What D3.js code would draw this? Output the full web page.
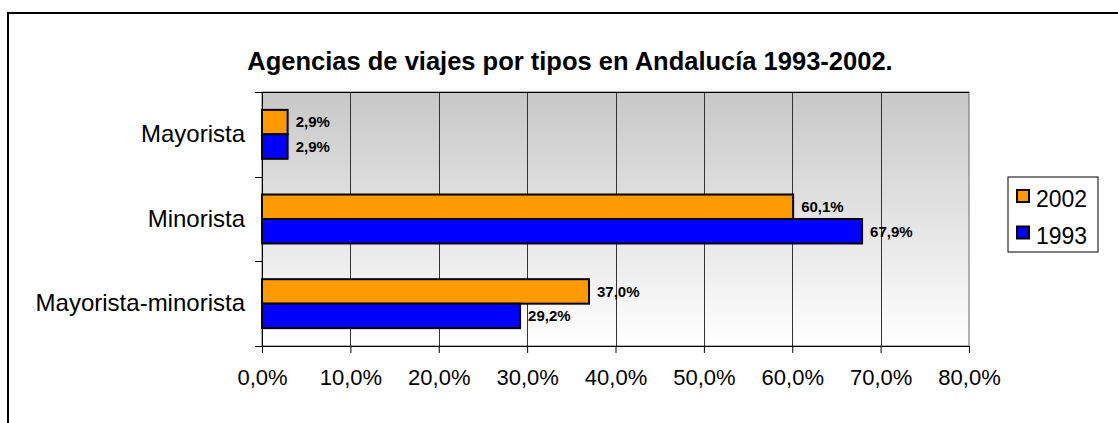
<!DOCTYPE html>
<html lang="es">
<head>
<meta charset="utf-8">
<title>Agencias de viajes</title>
<script src="https://cdn.jsdelivr.net/npm/d3@7"></script>
<style>
  body { margin: 0; background: #fff; }
  svg text { font-family: Arial, "Liberation Sans", sans-serif; fill: #000; }
</style>
</head>
<body>
<svg class="canvas"></svg>
<script>
var categories = ['Mayorista', 'Minorista', 'Mayorista-minorista'];
var seriesNames = ['2002', '1993'];
var values2002 = [2.9, 60.1, 37.0];
var values1993 = [2.9, 67.9, 29.2];
var xTicks = [0, 10, 20, 30, 40, 50, 60, 70, 80];
var colours = {'2002': '#FF9900', '1993': '#0000FF'};
var title = 'Agencias de viajes por tipos en Andalucía 1993-2002.';

(function () {
  var width = 1118, height = 423;
  var plot = {left: 262, top: 92, right: 969, bottom: 346};

  var data = categories.map(function (c, i) {
    return {cat: c, vals: [
      {name: '2002', v: values2002[i]},
      {name: '1993', v: values1993[i]}
    ]};
  });

  var fmt = function (v) { return d3.format('.1f')(v).replace('.', ',') + '%'; };

  var svg = d3.select('.canvas').attr('width', width).attr('height', height);

  // outer frame
  svg.append('rect')
    .attr('x', 8).attr('y', 13).attr('width', width + 10).attr('height', height + 10)
    .attr('fill', 'none').attr('stroke', '#000').attr('stroke-width', 2);

  var defs = svg.append('defs');
  var grad = defs.append('linearGradient').attr('id', 'bg')
    .attr('x1', 0).attr('y1', 0).attr('x2', 0).attr('y2', 1);
  grad.append('stop').attr('offset', '0%').attr('stop-color', '#c8c8c8');
  grad.append('stop').attr('offset', '100%').attr('stop-color', '#ffffff');

  var x = d3.scaleLinear().domain([0, 80]).range([plot.left, plot.right]);
  var y = d3.scaleBand().domain(categories).range([plot.top, plot.bottom]).padding(0);
  var y1 = d3.scaleBand().domain(seriesNames).range([0, y.bandwidth()])
    .paddingInner(0).paddingOuter(0.73);

  svg.append('rect')
    .attr('x', plot.left).attr('y', plot.top)
    .attr('width', plot.right - plot.left).attr('height', plot.bottom - plot.top)
    .attr('fill', 'url(#bg)').attr('stroke', '#666').attr('stroke-width', 1);

  // gridlines
  svg.append('g').selectAll('line')
    .data(xTicks.filter(function (t) { return t > 0 && t < 80; }))
    .enter().append('line')
    .attr('x1', function (d) { return Math.round(x(d)) + 0.5; })
    .attr('x2', function (d) { return Math.round(x(d)) + 0.5; })
    .attr('y1', plot.top).attr('y2', plot.bottom)
    .attr('stroke', '#333').attr('stroke-width', 1);

  svg.append('line')
    .attr('x1', plot.left - 7).attr('x2', plot.right).attr('y1', plot.top + 0.5).attr('y2', plot.top + 0.5)
    .attr('stroke', '#000');

  // bars
  var groups = svg.append('g').selectAll('g')
    .data(data).enter().append('g')
    .attr('transform', function (d) { return 'translate(0,' + y(d.cat) + ')'; });

  groups.selectAll('rect')
    .data(function (d) { return d.vals; })
    .enter().append('rect')
    .attr('x', x(0))
    .attr('y', function (d) { return y1(d.name); })
    .attr('width', function (d) { return x(d.v) - x(0); })
    .attr('height', y1.bandwidth())
    .attr('fill', function (d) { return colours[d.name]; })
    .attr('stroke', '#000').attr('stroke-width', 2);

  groups.selectAll('text')
    .data(function (d) { return d.vals; })
    .enter().append('text')
    .attr('x', function (d) { return x(d.v) + 8; })
    .attr('y', function (d) { return y1(d.name) + y1.bandwidth() / 2; })
    .attr('dy', '0.36em')
    .style('font-size', '15px').style('font-weight', 'bold')
    .text(function (d) { return fmt(d.v); });

  // x axis
  var xAxis = d3.axisBottom(x).tickValues(xTicks).tickSize(7).tickPadding(16)
    .tickFormat(fmt);
  var gx = svg.append('g').attr('transform', 'translate(0,' + plot.bottom + ')').call(xAxis);
  gx.select('.domain').attr('stroke', '#000');
  gx.selectAll('.tick line').attr('stroke', '#000');
  gx.selectAll('text').style('font-size', '22px').style('font-family', 'Arial, "Liberation Sans", sans-serif');

  // y axis: ticks at band boundaries, labels centred in bands
  var yAxis = d3.axisLeft(y).tickSize(0).tickPadding(17);
  var gy = svg.append('g').attr('transform', 'translate(' + plot.left + ',0)').call(yAxis);
  gy.select('.domain').attr('stroke', '#000');
  gy.selectAll('text').style('font-size', '24px').style('font-family', 'Arial, "Liberation Sans", sans-serif');
  var bounds = categories.map(function (c) { return y(c); }).concat([plot.bottom]);
  gy.selectAll('.bound').data(bounds).enter().append('line')
    .attr('class', 'bound')
    .attr('x1', -7).attr('x2', 0)
    .attr('y1', function (d) { return Math.round(d) + 0.5; })
    .attr('y2', function (d) { return Math.round(d) + 0.5; })
    .attr('stroke', '#000');

  // title
  svg.append('text')
    .attr('x', 570).attr('y', 70)
    .attr('text-anchor', 'middle')
    .style('font-size', '25.5px').style('font-weight', 'bold')
    .text(title);

  // legend
  var leg = svg.append('g').attr('transform', 'translate(1008,177)');
  leg.append('rect').attr('width', 90).attr('height', 75)
    .attr('fill', '#fff').attr('stroke', '#000').attr('stroke-width', 1);
  var items = leg.selectAll('g.item').data(seriesNames).enter().append('g')
    .attr('class', 'item')
    .attr('transform', function (d, i) { return 'translate(0,' + (i * 36.5) + ')'; });
  items.append('rect')
    .attr('x', 9).attr('y', 13).attr('width', 12).attr('height', 12)
    .attr('fill', function (d) { return colours[d]; })
    .attr('stroke', '#000').attr('stroke-width', 2);
  items.append('text')
    .attr('x', 28).attr('y', 30)
    .style('font-size', '23px')
    .text(function (d) { return d; });
})();
</script>
</body>
</html>
